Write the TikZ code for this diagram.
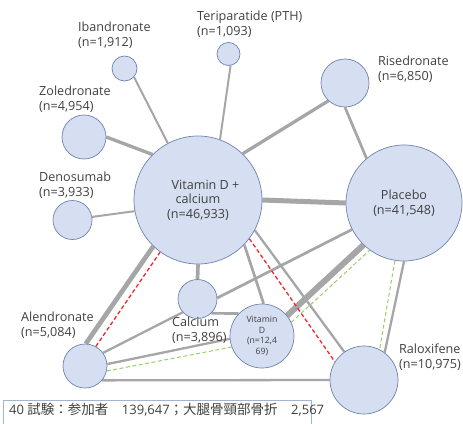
\documentclass[tikz,border=0pt]{standalone}
\usepackage{fontspec}
\setmainfont{Open Sans}
\newfontfamily\jp{Noto Sans CJK JP}
\usetikzlibrary{backgrounds}
\definecolor{nodefill}{HTML}{D6DFF1}
\definecolor{nodeline}{HTML}{6F83AE}
\definecolor{edgegray}{HTML}{A6A6A6}
\definecolor{txt}{HTML}{404040}
\definecolor{reddash}{HTML}{F0282D}
\definecolor{greendash}{HTML}{9ACD6B}
\definecolor{boxline}{HTML}{9FB5D2}
\begin{document}
\begin{tikzpicture}[x=1pt,y=-1pt,
  trt/.style={circle,draw=nodeline,fill=nodefill,line width=0.7pt,inner sep=0pt,text=txt,align=center,font=\fontsize{12.6}{14.5}\selectfont},
  lab/.style={anchor=north west,inner sep=0pt,align=left,text=txt,font=\fontsize{12.6}{14.5}\selectfont},
  ln/.style={draw=edgegray,line width=#1},
  rdash/.style={draw=reddash,line width=1.3pt,dash pattern=on 4pt off 2.5pt},
  gdash/.style={draw=greendash,line width=1pt,dash pattern=on 4pt off 2.5pt}]
\useasboundingbox (0,0) rectangle (463,423);
% treatment nodes
\node[trt,minimum size=25pt] (iban) at (124.5,68.5) {};
\node[trt,minimum size=23pt] (teri) at (228.5,54) {};
\node[trt,minimum size=44pt] (zol) at (84,137) {};
\node[trt,minimum size=39pt] (deno) at (72.5,220) {};
\node[trt,minimum size=128pt] (vdc) at (198,200) {\hspace*{1.2em}Vitamin D +\\calcium\\(n=46,933)};
\node[trt,minimum size=48pt] (rise) at (345,83) {};
\node[trt,minimum size=116pt] (plac) at (404,203) {Placebo\\(n=41,548)};
\node[trt,minimum size=39pt] (calc) at (197.5,299) {};
\node[trt,minimum size=64pt,font=\fontsize{8.7}{10.8}\selectfont] (vitd) at (262,336) {Vitamin\\D\\(n=12,4\\69)};
\node[trt,minimum size=44pt] (alen) at (85,366) {};
\node[trt,minimum size=68pt] (ralo) at (364,380) {};
% edges
\begin{scope}[on background layer]
\draw[ln=2pt] (iban.-42) -- (vdc.118);
\draw[ln=2pt] (teri.-80) -- (vdc.70);
\draw[ln=3.3pt] (zol.0) -- (vdc.135);
\draw[ln=2pt] (deno.9) -- (vdc.190);
\draw[ln=3.3pt] (rise.227) -- (vdc.46);
\draw[ln=2.7pt] (rise.-90) -- (plac.130);
\draw[ln=5pt] (vdc.0) -- (plac.180);
\draw[ln=4.7pt] (alen.88) -- (vdc.226);
\draw[ln=3.7pt] (vdc.-90) -- (calc.90);
\draw[ln=2.7pt] (vdc.-44) -- (vitd.87);
\draw[ln=2.3pt] (vdc.-28) -- (ralo.125);
\draw[ln=2.7pt] (calc.3) -- (plac.207);
\draw[ln=6pt] (vitd.39) -- (plac.226);
\draw[ln=2.3pt] (plac.-90) -- (ralo.53);
\draw[ln=2.3pt] (alen.36) -- (calc.222);
\draw[ln=2.3pt] (alen.5) -- (vitd.185);
\draw[ln=2.3pt] (alen.-40) -- (ralo.180);
\draw[ln=2.7pt] (calc.-46) -- (vitd.136);
\draw[rdash] (alen.61) -- (vdc.234);
\draw[rdash] (vdc.-37) -- (ralo.148);
\draw[gdash] (vitd.25) -- (plac.234);
\draw[gdash] (plac.-99) -- (ralo.63);
\draw[gdash] (alen.-13) -- (vitd.200);
\end{scope}
% labels
\node[lab] (ibanL) at (78,22) {Ibandronate\\(n=1,912)};
\node[lab] (teriL) at (197,11) {Teriparatide (PTH)\\(n=1,093)};
\node[lab] (zolL) at (39,86) {Zoledronate\\(n=4,954)};
\node[lab] (denoL) at (39,172) {Denosumab\\(n=3,933)};
\node[lab] (riseL) at (378,56) {Risedronate\\(n=6,850)};
\node[lab] (alenL) at (21,312) {Alendronate\\(n=5,084)};
\node[lab] (calcL) at (172,317) {Calcium\\(n=3,896)};
\node[lab] (raloL) at (399,344) {Raloxifene\\(n=10,975)};
% summary box
\node[draw=boxline,fill=white,line width=0.8pt,minimum width=308pt,minimum height=30pt,anchor=north west,inner sep=0pt] (box) at (3,400) {};
\node[anchor=west,inner sep=0pt,text=txt,font=\fontsize{13}{15}\selectfont] (boxT) at (9,410) {40 {\jp\fontsize{13.5}{15}\selectfont 試験：参加者　}139,647{\jp\fontsize{13.5}{15}\selectfont ；大腿骨頸部骨折　}2,567};
\end{tikzpicture}
\end{document}
